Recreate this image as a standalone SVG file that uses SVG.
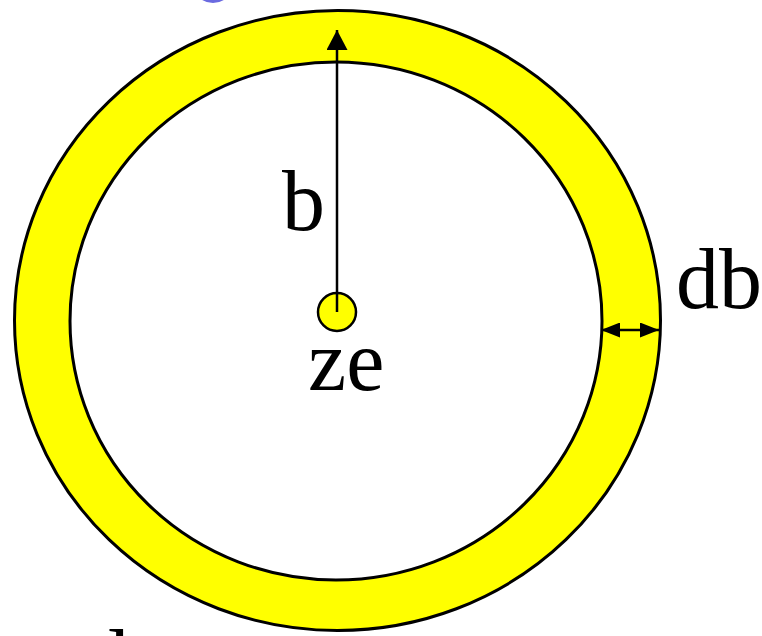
<svg xmlns="http://www.w3.org/2000/svg" width="762" height="636" viewBox="0 0 762 636">
<style>
.ring{fill:#ffff00;stroke:#000;stroke-width:3}
.hole{fill:#fff;stroke:#000;stroke-width:3}
.lbl{font-family:"Liberation Serif","Times New Roman",serif;font-size:86px;fill:#000}
.ln{stroke:#000;stroke-width:2.5;fill:none}
</style>
<defs>
<marker id="big" viewBox="0 0 10 10" refX="10" refY="5" markerWidth="20" markerHeight="21" markerUnits="userSpaceOnUse" orient="auto" preserveAspectRatio="none">
<path d="M0,0 L10,5 L0,10 z" fill="#000"/>
</marker>
<marker id="dbl" viewBox="0 0 10 10" refX="10" refY="5" markerWidth="19" markerHeight="15" markerUnits="userSpaceOnUse" orient="auto-start-reverse" preserveAspectRatio="none">
<path d="M0,0 L10,5 L0,10 z" fill="#000"/>
</marker>
</defs>
<rect width="762" height="636" fill="#fff"/>
<g id="blue-mark">
<ellipse cx="213" cy="-16" rx="18" ry="17" fill="none" stroke="#6a6ae0" stroke-width="4"/>
</g>
<g id="ring">
<ellipse class="ring" cx="337.5" cy="320.5" rx="323" ry="310"/>
<ellipse class="hole" cx="336" cy="321" rx="266" ry="259"/>
</g>
<g id="charge">
<circle cx="337" cy="312" r="19" fill="#ffff00" stroke="#000" stroke-width="2.5"/>
</g>
<g id="connectors">
<line class="ln" x1="337" y1="312" x2="337" y2="30" marker-end="url(#big)"/>
<line class="ln" x1="601" y1="330" x2="659" y2="330" stroke-width="3" marker-start="url(#dbl)" marker-end="url(#dbl)"/>
</g>
<g id="labels">
<text class="lbl" x="282" y="230">b</text>
<text class="lbl" x="308" y="390">ze</text>
<text class="lbl" x="676" y="308">db</text>
<text class="lbl" x="86" y="689">d</text>
</g>
</svg>
